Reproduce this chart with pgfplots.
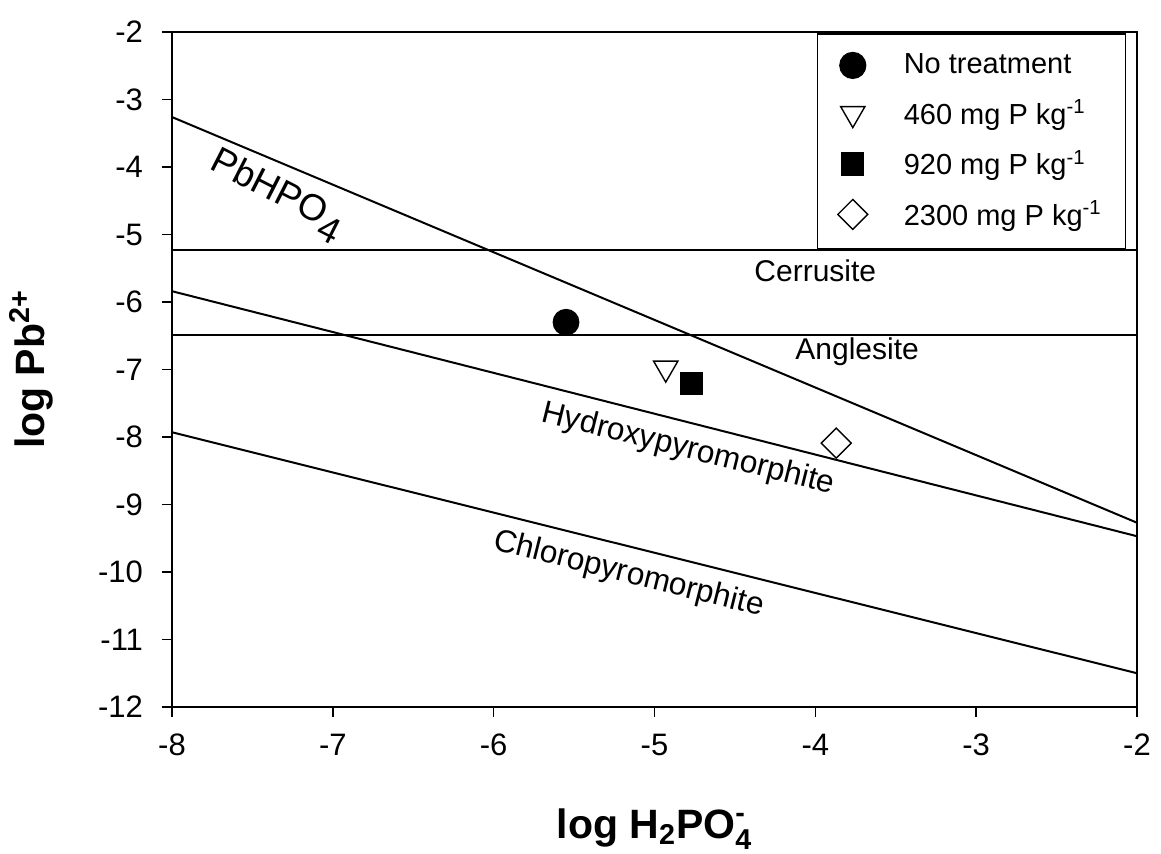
\documentclass[border=0pt]{standalone}
\usepackage{fontspec}
\setmainfont{Liberation Sans}
\usepackage{amsmath}
\usepackage{pgfplots}
\pgfplotsset{compat=1.18}

\begin{document}
\begin{tikzpicture}
\useasboundingbox (-86pt,-73pt) rectangle (494.5pt,353.5pt);
\begin{axis}[
  at={(0,0)}, anchor=south west,
  scale only axis, width=482.5pt, height=337.5pt,
  xmin=-8, xmax=-2, ymin=-12, ymax=-2,
  xtick={-8,-7,...,-2}, ytick={-12,-11,...,-2},
  tick pos=left, tick align=outside, major tick length=5pt,
  axis line style={line width=0.8pt},
  every tick/.style={black, line width=0.8pt},
  /pgf/number format/assume math mode=true,
  ticklabel style={font=\fontsize{15.5}{18}\selectfont},
  xticklabel style={yshift=-5pt},
  yticklabel style={xshift=-6pt},
  xlabel={\textbf{log H\textsubscript{2}PO$_{\text{4}}^{\text{-}}$}},
  ylabel={\textbf{log Pb\textsuperscript{2+}}},
  every axis x label/.style={at={([yshift=-65.5pt]axis description cs:0.5,0)}, anchor=base,
    font=\fontsize{20.5}{24}\selectfont},
  every axis y label/.style={at={([xshift=-63.5pt]axis description cs:0,0.5)}, rotate=90, anchor=base,
    font=\fontsize{20.5}{24}\selectfont},
  legend style={at={(0.989,0.998)}, anchor=north east, draw=black, line width=0.6pt,
    font=\fontsize{14.5}{17}\selectfont, row sep=7.5pt, inner xsep=10pt, inner ysep=8pt,
    /tikz/every odd column/.append style={column sep=16pt}},
  legend cell align=left,
]
% boundary lines
\addplot[black, line width=1pt, forget plot] coordinates {(-8,-3.26) (-2,-9.27)};
\addplot[black, line width=1pt, forget plot] coordinates {(-8,-5.23) (-2,-5.23)};
\addplot[black, line width=1pt, forget plot] coordinates {(-8,-6.49) (-2,-6.49)};
\addplot[black, line width=1pt, forget plot] coordinates {(-8,-5.84) (-2,-9.47)};
\addplot[black, line width=1pt, forget plot] coordinates {(-8,-7.93) (-2,-11.50)};

% soil data
\addplot[only marks, mark=*, mark size=6.5pt, black] coordinates {(-5.55,-6.30)};
\addlegendentry{No treatment}
\addplot[only marks, mark=triangle, mark size=7pt, black, line width=0.7pt, mark options={rotate=180, fill=white}] coordinates {(-4.93,-6.98)};
\addlegendentry{460 mg P kg\textsuperscript{-1}}
\addplot[only marks, mark=square*, mark size=5.5pt, black] coordinates {(-4.77,-7.21)};
\addlegendentry{920 mg P kg\textsuperscript{-1}}
\addplot[only marks, mark=square, mark size=5.3pt, black, line width=0.7pt, mark options={rotate=45, fill=white}] coordinates {(-3.87,-8.09)};
\addlegendentry{2300 mg P kg\textsuperscript{-1}}

\node[font=\fontsize{18.5}{20}\selectfont, rotate=-27] at (axis cs:-7.35,-4.42) {PbHPO\raisebox{-0.6ex}{4}};
\node[font=\fontsize{15}{18}\selectfont] at (axis cs:-4.0,-5.53) {Cerrusite};
\node[font=\fontsize{15}{18}\selectfont] at (axis cs:-3.74,-6.74) {Anglesite};
\node[font=\fontsize{15.8}{18}\selectfont, rotate=-14] at (axis cs:-4.79,-8.19) {Hydroxypyromorphite};
\node[font=\fontsize{15.8}{18}\selectfont, rotate=-14] at (axis cs:-5.16,-10.04) {Chloropyromorphite};
\end{axis}
\end{tikzpicture}
\end{document}
